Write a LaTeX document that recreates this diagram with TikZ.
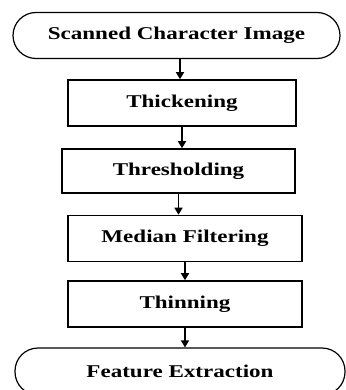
\documentclass[tikz,border=0pt]{standalone}
\usepackage{fontspec}
\setmainfont{Liberation Serif}[FakeStretch=1.28]
\usetikzlibrary{arrows.meta}

\tikzset{
    stage/.style={draw, line width=1.6pt, minimum height=46pt,
        font=\bfseries\fontsize{18}{20}\selectfont},
    terminal/.style={draw, line width=1.2pt, rounded corners=23pt, minimum height=46pt,
        font=\bfseries\fontsize{18}{20}\selectfont},
    flow/.style={line width=1.6pt, -{Triangle[length=7pt,width=8pt]}}
}

\begin{document}
\begin{tikzpicture}[x=1pt,y=-1pt]
    \useasboundingbox (0,0) rectangle (345,390);

    % Start of the chain
    \node (scan) [terminal, minimum width=327pt] at (176.5,35.5) {Scanned Character Image};

    % Preprocessing steps
    \node (thick) [stage, minimum width=228pt] at (182,103) {Thickening};
    \node (thresh) [stage, minimum width=233pt, minimum height=44pt] at (178.5,171) {Thresholding};
    \node (median) [stage, minimum width=234pt] at (185,238.5) {Median Filtering};
    \node (thin) [stage, minimum width=234pt] at (185,304) {Thinning};

    % End of the chain
    \node (feat) [terminal, minimum width=330pt, minimum height=47pt] at (180,371.5) {Feature Extraction};

    % Arrows between the steps
    \draw [flow] (scan.south -| thick.north) ++(-2,0) coordinate (s0) -- (s0 |- thick.north);
    \draw [flow] (thick.south) -- (thick.south |- thresh.north);
    \draw [flow] (thresh.south) -- (thresh.south |- median.north);
    \draw [flow] (median.south) -- (median.south |- thin.north);
    \draw [flow] (thin.south) -- (thin.south |- feat.north);
\end{tikzpicture}
\end{document}
